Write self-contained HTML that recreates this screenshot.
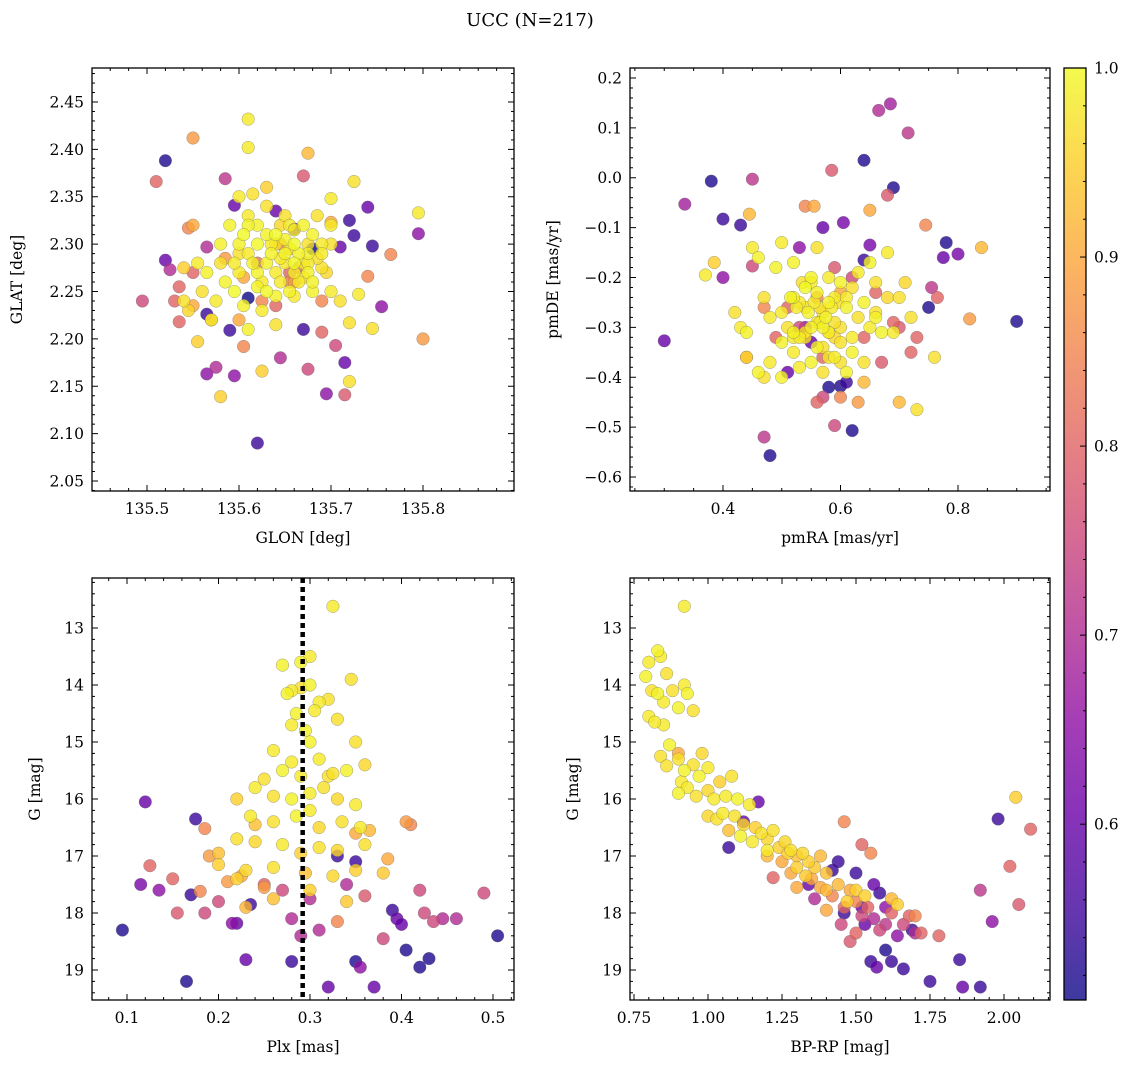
<!DOCTYPE html>
<html><head><meta charset="utf-8"><style>
html,body{margin:0;padding:0;background:#fff}
svg{display:block;font-family:"DejaVu Serif","Liberation Serif",serif}
</style></head><body>
<svg id="fig" width="1136" height="1068" viewBox="0 0 1136 1068" xmlns="http://www.w3.org/2000/svg">
<text x="530" y="26" font-size="18" text-anchor="middle">UCC (N=217)</text>
</svg>
<script>
// ---- Data (estimated from reference) ----
const p1x=[135.52,135.51,135.55,135.495,135.52,135.525,135.535,135.53,135.535,135.54,135.545,135.55,135.55,135.555,135.55,135.565,135.565,135.565,135.575,135.58,135.585,135.59,135.595,135.595,135.605,135.61,135.61,135.61,135.615,135.62,135.625,135.63,135.64,135.645,135.66,135.67,135.675,135.675,135.68,135.69,135.695,135.7,135.705,135.71,135.715,135.715,135.72,135.72,135.725,135.725,135.72,135.73,135.74,135.74,135.745,135.745,135.755,135.765,135.795,135.795,135.8,135.67,
135.60,135.61,135.62,135.63,135.64,135.65,135.66,135.67,135.68,135.69,135.62,135.63,135.645,135.655,135.665,135.675,135.60,135.595,135.585,135.575,135.58,135.59,135.61,135.62,135.64,135.655,135.67,135.685,135.70,135.61,135.625,135.64,135.605,135.57,135.56,135.565,135.555,135.54,135.545,135.6,135.61,135.63,135.66,135.68,135.69,135.7,135.71,135.64,135.65,135.66,135.675,135.69,135.7,135.62,135.595,135.58,135.605,135.635,135.65,135.68,
135.57,135.585,135.605,135.625,135.645,135.66,135.7,135.69,135.62,135.655,135.64,135.6,
135.635,135.645,135.655,135.665,135.675,135.64,135.65,135.66,135.67,135.63,135.645,135.66,135.675,135.615,135.625,135.685,135.695,135.655,135.665,135.6];
const p1y=[2.388,2.366,2.412,2.24,2.283,2.273,2.255,2.24,2.218,2.275,2.317,2.32,2.27,2.197,2.235,2.226,2.163,2.297,2.17,2.139,2.369,2.209,2.341,2.161,2.192,2.243,2.432,2.402,2.353,2.09,2.166,2.36,2.335,2.18,2.316,2.372,2.396,2.168,2.295,2.207,2.142,2.348,2.193,2.297,2.175,2.141,2.155,2.325,2.309,2.366,2.217,2.247,2.339,2.266,2.298,2.211,2.234,2.289,2.333,2.311,2.2,2.21,
2.30,2.29,2.30,2.28,2.27,2.29,2.30,2.28,2.31,2.30,2.27,2.25,2.26,2.25,2.26,2.27,2.27,2.25,2.26,2.24,2.28,2.32,2.33,2.32,2.31,2.32,2.32,2.33,2.32,2.21,2.23,2.215,2.235,2.22,2.25,2.27,2.28,2.24,2.23,2.35,2.32,2.34,2.245,2.25,2.275,2.25,2.24,2.245,2.28,2.28,2.29,2.29,2.3,2.255,2.28,2.3,2.31,2.30,2.33,2.26,
2.22,2.285,2.265,2.24,2.3,2.26,2.323,2.24,2.28,2.27,2.235,2.22,
2.29,2.285,2.295,2.29,2.28,2.3,2.305,2.27,2.265,2.31,2.32,2.315,2.3,2.28,2.26,2.285,2.27,2.26,2.275,2.29];
const p1c=[0.52,0.8,0.88,0.75,0.6,0.7,0.8,0.8,0.8,0.95,0.85,0.9,0.8,0.95,0.9,0.55,0.65,0.7,0.7,0.95,0.72,0.55,0.6,0.65,0.85,0.5,0.98,0.98,0.97,0.55,0.95,0.95,0.6,0.7,0.55,0.78,0.92,0.75,0.5,0.8,0.65,0.98,0.75,0.6,0.6,0.78,0.97,0.55,0.55,0.97,0.97,0.98,0.6,0.85,0.55,0.97,0.65,0.85,0.98,0.65,0.88,0.55,
0.99,0.98,1,0.99,0.98,0.99,1,0.98,0.99,0.98,0.99,1,0.98,0.99,0.98,0.99,0.98,1,0.99,0.98,0.97,0.99,0.98,0.99,1,0.98,0.99,0.97,0.98,0.99,0.98,0.97,0.99,0.98,0.97,0.99,0.98,0.97,0.96,0.98,0.99,0.97,0.98,0.99,0.97,0.98,0.97,0.99,0.98,1,0.99,0.98,0.97,0.99,0.98,0.99,1,0.98,0.97,0.99,
0.88,0.88,0.9,0.85,0.85,0.88,0.9,0.85,0.82,0.8,0.8,0.9,
0.99,0.98,0.97,0.99,0.98,0.97,0.99,0.98,0.97,0.99,0.96,0.98,0.97,0.99,0.98,0.97,0.96,0.85,0.8,0.97];

const p2x=[0.30,0.335,0.38,0.40,0.40,0.37,0.385,0.43,0.445,0.45,0.45,0.47,0.48,0.53,0.54,0.555,0.57,0.58,0.585,0.59,0.6,0.605,0.62,0.64,0.64,0.65,0.65,0.665,0.685,0.69,0.68,0.715,0.73,0.7,0.745,0.75,0.755,0.765,0.775,0.78,0.8,0.82,0.84,0.9,0.76,0.72,0.73,
0.45,0.46,0.47,0.48,0.49,0.5,0.51,0.52,0.53,0.54,0.55,0.56,0.57,0.58,0.59,0.6,0.61,0.62,0.63,0.64,0.65,0.66,0.67,0.68,0.69,0.7,0.5,0.52,0.54,0.56,0.58,0.6,0.62,0.64,0.53,0.55,0.57,0.59,0.61,0.48,0.47,0.46,0.44,0.43,0.42,0.44,0.5,0.52,0.56,0.58,0.6,0.62,0.63,0.65,0.66,0.68,0.71,0.5,0.52,0.54,0.56,0.58,0.6,0.64,0.66,0.72,0.55,0.57,0.59,0.61,
0.44,0.47,0.49,0.53,0.57,0.59,0.6,0.62,0.64,0.66,0.67,0.69,0.7,0.56,0.57,0.63,0.51,0.55,0.61,0.54,
0.515,0.525,0.535,0.545,0.555,0.565,0.575,0.585,0.595,0.52,0.53,0.54,0.55,0.565,0.58,0.59,0.51,0.56,0.6,0.57];
const p2y=[-0.327,-0.053,-0.007,-0.083,-0.2,-0.195,-0.17,-0.095,-0.073,-0.003,-0.177,-0.52,-0.557,-0.14,-0.057,-0.057,-0.1,-0.42,0.015,-0.497,-0.418,-0.09,-0.507,0.035,-0.165,-0.065,-0.135,0.135,0.148,-0.02,-0.035,0.09,-0.465,-0.45,-0.095,-0.26,-0.22,-0.24,-0.16,-0.13,-0.153,-0.283,-0.14,-0.288,-0.36,-0.35,-0.32,
-0.14,-0.16,-0.24,-0.28,-0.18,-0.27,-0.3,-0.24,-0.25,-0.22,-0.2,-0.29,-0.27,-0.25,-0.24,-0.3,-0.26,-0.32,-0.28,-0.25,-0.3,-0.27,-0.31,-0.24,-0.31,-0.24,-0.33,-0.35,-0.32,-0.34,-0.36,-0.37,-0.35,-0.37,-0.38,-0.37,-0.39,-0.36,-0.39,-0.37,-0.4,-0.39,-0.36,-0.3,-0.27,-0.31,-0.13,-0.17,-0.14,-0.2,-0.21,-0.22,-0.19,-0.17,-0.21,-0.15,-0.21,-0.4,-0.32,-0.26,-0.23,-0.31,-0.33,-0.41,-0.28,-0.28,-0.21,-0.3,-0.29,-0.24,
-0.36,-0.26,-0.32,-0.3,-0.36,-0.18,-0.44,-0.2,-0.32,-0.23,-0.37,-0.29,-0.3,-0.45,-0.44,-0.45,-0.39,-0.33,-0.41,-0.3,
-0.24,-0.26,-0.21,-0.27,-0.25,-0.26,-0.28,-0.26,-0.25,-0.31,-0.32,-0.31,-0.3,-0.29,-0.31,-0.32,-0.26,-0.24,-0.23,-0.34];
const p2c=[0.6,0.68,0.52,0.55,0.65,0.98,0.95,0.55,0.92,0.72,0.75,0.72,0.52,0.65,0.85,0.9,0.6,0.52,0.78,0.75,0.52,0.62,0.52,0.52,0.55,0.9,0.62,0.7,0.68,0.52,0.78,0.72,0.97,0.92,0.85,0.52,0.72,0.8,0.6,0.52,0.62,0.88,0.92,0.52,0.97,0.8,0.8,
0.98,0.99,0.97,0.98,0.99,0.98,0.97,0.99,0.98,1,0.99,0.98,0.97,0.99,0.98,0.97,0.99,0.98,0.97,0.99,0.98,0.97,0.99,0.96,0.98,0.97,0.99,0.98,0.97,0.99,0.98,0.97,0.99,0.97,0.98,0.99,0.97,0.98,0.99,0.98,0.97,0.99,0.95,0.98,0.97,0.99,0.98,0.99,0.97,0.98,0.99,0.97,0.98,0.99,0.97,0.98,0.96,0.99,0.98,0.97,0.99,0.98,0.97,0.92,0.99,0.97,0.98,0.99,0.97,0.98,
0.9,0.85,0.8,0.75,0.8,0.78,0.85,0.75,0.8,0.8,0.78,0.8,0.78,0.8,0.75,0.88,0.6,0.6,0.55,0.65,
0.99,0.98,0.97,0.99,0.98,0.97,0.99,0.98,0.97,0.99,0.98,0.97,0.99,0.98,0.97,0.96,0.8,0.85,0.9,0.97];

const p3x=[0.095,0.115,0.12,0.125,0.135,0.15,0.155,0.165,0.17,0.175,0.18,0.185,0.185,0.2,0.215,0.22,0.23,0.235,0.28,0.29,0.32,0.35,0.355,0.37,0.38,0.39,0.395,0.4,0.405,0.41,0.405,0.42,0.42,0.425,0.43,0.435,0.445,0.46,0.49,0.505,0.35,0.33,0.34,0.36,0.3,0.27,0.25,0.28,0.31,
0.325,0.29,0.3,0.345,0.275,0.28,0.29,0.3,0.31,0.32,0.285,0.28,0.295,0.33,0.26,0.3,0.35,0.31,0.25,0.27,0.29,0.32,0.34,0.36,0.24,0.26,0.28,0.3,0.315,0.33,0.35,0.22,0.235,0.26,0.285,0.31,0.335,0.355,0.2,0.22,0.24,0.27,0.29,0.31,0.33,0.36,0.2,0.23,0.26,0.295,0.325,0.35,0.38,0.23,0.26,0.3,0.34,0.22,0.3,0.28,0.27,0.305,0.325,
0.35,0.25,0.19,0.225,0.365,0.385,0.24,0.21,0.33];
const p3y=[18.3,17.5,16.05,17.17,17.6,17.4,18.0,19.2,17.68,16.35,17.62,16.52,18.0,17.8,18.18,18.18,18.82,17.85,18.85,18.4,19.3,18.85,18.95,19.3,18.45,17.95,18.1,18.2,16.4,16.45,18.65,17.6,18.95,18.0,18.8,18.15,18.1,18.1,17.65,18.4,17.1,17.0,17.5,17.7,17.75,17.6,17.5,18.1,18.3,
12.62,13.6,13.5,13.9,14.15,14.1,14.05,14.0,14.3,14.25,14.5,14.7,14.8,14.6,15.15,15.0,15.0,15.3,15.65,15.5,15.6,15.6,15.5,15.4,15.8,15.95,16.0,15.9,15.8,16.0,16.1,16.0,16.3,16.4,16.3,16.5,16.4,16.5,16.95,16.7,16.75,16.8,16.95,16.85,16.9,16.8,17.15,17.25,17.2,17.3,17.35,17.25,17.3,17.9,17.75,17.6,17.8,17.4,16.2,15.35,13.65,14.45,15.55,
16.6,17.55,17.0,17.35,16.55,17.05,16.45,17.45,18.15];
const p3c=[0.52,0.62,0.6,0.8,0.65,0.8,0.78,0.52,0.55,0.55,0.85,0.85,0.75,0.75,0.65,0.6,0.6,0.55,0.55,0.7,0.6,0.52,0.65,0.6,0.75,0.55,0.6,0.6,0.88,0.85,0.52,0.75,0.52,0.75,0.52,0.75,0.7,0.7,0.75,0.52,0.55,0.55,0.7,0.78,0.7,0.75,0.8,0.7,0.7,
0.98,0.99,0.98,0.97,0.99,0.98,0.97,0.99,0.98,0.97,0.99,0.98,0.99,0.97,0.98,0.99,0.97,0.98,0.97,0.99,0.98,0.97,0.99,0.96,0.98,0.97,0.99,0.98,0.97,0.96,0.98,0.95,0.98,0.97,0.99,0.96,0.97,0.98,0.93,0.97,0.96,0.98,0.95,0.97,0.96,0.97,0.95,0.96,0.97,0.93,0.96,0.95,0.94,0.92,0.93,0.95,0.94,0.95,0.98,0.98,0.99,0.98,0.97,
0.9,0.88,0.88,0.9,0.92,0.9,0.93,0.88,0.85];

const p4x=[0.92,1.07,1.12,1.17,1.22,1.46,1.55,1.57,1.6,1.62,1.66,1.69,1.75,1.85,1.86,1.92,1.92,1.96,1.98,2.02,2.04,2.05,2.09,0.9,1.72,1.78,
0.8,0.79,0.81,0.8,0.83,0.84,0.86,0.83,0.85,0.88,0.9,0.92,0.93,0.95,0.85,0.87,0.84,0.82,0.9,0.92,0.91,0.95,0.97,0.98,1.0,0.86,0.9,0.93,0.96,1.0,1.02,1.04,1.06,1.08,1.1,1.0,1.03,1.05,1.07,1.09,1.12,1.14,1.16,1.18,1.2,1.22,1.24,1.26,1.28,1.3,1.32,1.34,1.36,1.38,1.4,1.3,1.33,1.27,1.15,1.2,1.11,
1.38,1.4,1.42,1.44,1.46,1.48,1.5,1.52,1.54,1.56,1.58,1.6,1.62,1.64,1.66,1.68,1.7,1.45,1.48,1.5,1.53,1.56,1.36,1.34,1.42,1.44,1.5,1.58,1.55,1.52,1.5,1.47,1.53,1.62,1.64,1.4,1.46,1.52,1.6,1.7,1.25,1.3,1.35,1.28,1.2];
const p4y=[12.62,16.85,16.4,16.05,17.38,16.4,18.85,18.95,18.65,18.85,18.98,18.3,19.2,18.82,19.3,17.6,19.3,18.15,16.35,17.18,15.97,17.85,16.53,15.2,18.35,18.4,
13.6,13.85,14.1,14.55,13.4,13.5,13.8,14.15,14.3,14.1,14.4,14.0,14.15,14.45,14.7,15.05,15.25,14.65,15.3,15.5,15.7,15.4,15.6,15.2,15.45,15.42,15.9,15.8,15.95,15.85,16.0,15.7,15.95,15.6,16.0,16.3,16.35,16.25,16.55,16.3,16.45,16.1,16.5,16.6,16.7,16.55,16.85,16.75,16.9,17.0,16.95,17.1,17.2,17.0,17.3,17.2,17.35,16.95,16.75,16.9,16.65,
17.55,17.6,17.7,17.5,17.9,17.6,17.8,18.05,17.9,18.1,18.3,18.2,18.0,18.4,18.2,18.05,18.35,18.2,18.5,18.35,18.2,17.5,17.75,17.5,17.25,17.1,17.3,17.65,16.95,16.8,17.6,17.8,17.7,17.75,17.85,17.95,18.0,17.9,17.9,18.05,17.1,17.55,17.4,17.3,17.0];
const p4c=[0.98,0.55,0.6,0.6,0.8,0.85,0.55,0.6,0.52,0.55,0.55,0.55,0.55,0.55,0.6,0.72,0.55,0.65,0.55,0.8,0.95,0.78,0.8,0.9,0.8,0.8,
0.98,0.99,0.97,0.98,0.99,0.98,0.97,0.99,0.98,0.97,0.99,0.98,0.99,0.97,0.98,0.99,0.97,0.98,0.97,0.99,0.98,0.97,0.99,0.96,0.98,0.97,0.99,0.98,0.97,0.96,0.98,0.95,0.98,0.97,0.99,0.96,0.97,0.98,0.93,0.97,0.96,0.98,0.95,0.97,0.96,0.97,0.95,0.96,0.97,0.93,0.96,0.95,0.94,0.92,0.93,0.95,0.94,0.95,0.98,0.98,0.99,
0.9,0.92,0.85,0.92,0.8,0.9,0.85,0.75,0.8,0.7,0.75,0.72,0.8,0.65,0.75,0.8,0.7,0.75,0.78,0.8,0.6,0.6,0.7,0.6,0.55,0.55,0.55,0.55,0.85,0.8,0.95,0.95,0.95,0.92,0.95,0.9,0.55,0.6,0.65,0.85,0.9,0.9,0.9,0.9,0.92];

const cbTicks=[0.6,0.7,0.8,0.9,1.0];
const VMIN=0.507, VMAX=1.0;

// ---- helpers ----
const NS="http://www.w3.org/2000/svg";
const svg=document.getElementById('fig');
function mk(tag,attrs,parent){const e=document.createElementNS(NS,tag);for(const k in attrs)e.setAttribute(k,attrs[k]);(parent||svg).appendChild(e);return e;}
const stops=[[0,13,8,135],[0.1,65,4,157],[0.2,106,0,168],[0.3,143,13,164],[0.4,177,42,144],[0.5,204,71,120],[0.6,225,100,98],[0.7,242,132,75],[0.8,252,166,54],[0.9,252,206,37],[1,240,249,33]];
function plasma(t){t=Math.max(0,Math.min(1,t));for(let i=1;i<stops.length;i++){if(t<=stops[i][0]){const a=stops[i-1],b=stops[i];const f=(t-a[0])/(b[0]-a[0]);return `rgb(${Math.round(a[1]+(b[1]-a[1])*f)},${Math.round(a[2]+(b[2]-a[2])*f)},${Math.round(a[3]+(b[3]-a[3])*f)})`;}}return 'rgb(240,249,33)';}
function cmap(v){return plasma((v-VMIN)/(VMAX-VMIN));}

function panel(o){
  const g=mk('g',{});
  
  
  const sx=v=>o.L+(v-o.xd[0])/(o.xd[1]-o.xd[0])*(o.R-o.L);
  const sy=v=>o.inv? o.T+(v-o.yd[0])/(o.yd[1]-o.yd[0])*(o.B-o.T) : o.B-(v-o.yd[0])/(o.yd[1]-o.yd[0])*(o.B-o.T);
  const cp='cp'+o.name;
  const c=mk('clipPath',{id:cp},g);mk('rect',{x:o.L,y:o.T,width:o.R-o.L,height:o.B-o.T},c);
  const pts=mk('g',{'clip-path':`url(#${cp})`},g);
  
  
  const idx=o.x.map((_,i)=>i).sort((a,b)=>o.c[a]-o.c[b]);
  for(const i of idx){
    const p=mk('circle',{cx:sx(o.x[i]).toFixed(1),cy:sy(o.y[i]).toFixed(1),r:6.3,fill:cmap(o.c[i]),'fill-opacity':0.8,stroke:'#666','stroke-width':0.5,'stroke-opacity':0.6},pts);
    
    
  }
  if(o.vline!==undefined){
    const l=mk('line',{x1:sx(o.vline),x2:sx(o.vline),y1:o.T,y2:o.B,stroke:'#000','stroke-width':4.5,'stroke-dasharray':'5,4'},g);
    
    
  }
  const tk=mk('g',{stroke:'#000','stroke-width':1},g);
  
  
  const eps=1e-9;
  const xlo=Math.min(...o.xd),xhi=Math.max(...o.xd),ylo=Math.min(...o.yd),yhi=Math.max(...o.yd);
  for(let v=Math.ceil(xlo/o.xmin-eps)*o.xmin;v<=xhi+eps;v+=o.xmin){
    const major=Math.abs(v/o.xmaj-Math.round(v/o.xmaj))<1e-6; const len=major?6:3; const X=sx(v);
    mk('line',{x1:X,x2:X,y1:o.B,y2:o.B-len},tk);mk('line',{x1:X,x2:X,y1:o.T,y2:o.T+len},tk);
  }
  for(let v=Math.ceil(ylo/o.ymin-eps)*o.ymin;v<=yhi+eps;v+=o.ymin){
    const major=Math.abs(v/o.ymaj-Math.round(v/o.ymaj))<1e-6; const len=major?6:3; const Y=sy(v);
    mk('line',{x1:o.L,x2:o.L+len,y1:Y,y2:Y},tk);mk('line',{x1:o.R,x2:o.R-len,y1:Y,y2:Y},tk);
  }
  for(const v of o.xt){const t=mk('text',{x:sx(v),y:o.B+23,'font-size':15.5,'text-anchor':'middle'},g);t.textContent=o.xf(v);
    }
  for(const v of o.yt){const t=mk('text',{x:o.L-8,y:sy(v)+5.5,'font-size':15.5,'text-anchor':'end'},g);t.textContent=o.yf(v);
    }
  const xl=mk('text',{x:(o.L+o.R)/2,y:o.B+52,'font-size':15.5,'text-anchor':'middle'},g);xl.textContent=o.xlab;
  
  const yx=o.ylx, yy=(o.T+o.B)/2;
  const yl=mk('text',{x:yx,y:yy,'font-size':15.5,'text-anchor':'middle',transform:`rotate(-90 ${yx} ${yy})`},g);yl.textContent=o.ylab;
  
  const fr=mk('rect',{x:o.L,y:o.T,width:o.R-o.L,height:o.B-o.T,fill:'none',stroke:'#000','stroke-width':1.3},g);
  
}
const neg=s=>s.replace('-','\u2212');
panel({name:'glon-glat-panel',L:92,R:514,T:68,B:491,xd:[135.4402,135.8989],yd:[2.03945,2.48588],x:p1x,y:p1y,c:p1c,
  xmaj:0.1,xmin:0.02,ymaj:0.05,ymin:0.01,xt:[135.5,135.6,135.7,135.8],yt:[2.05,2.1,2.15,2.2,2.25,2.3,2.35,2.4,2.45],
  xf:v=>v.toFixed(1),yf:v=>v.toFixed(2),xlab:'GLON [deg]',ylab:'GLAT [deg]',ylx:22});
panel({name:'proper-motion-panel',L:630,R:1050,T:68,B:491,xd:[0.24170,0.95660],yd:[-0.62807,0.22005],x:p2x,y:p2y,c:p2c,
  xmaj:0.2,xmin:0.05,ymaj:0.1,ymin:0.02,xt:[0.4,0.6,0.8],yt:[-0.6,-0.5,-0.4,-0.3,-0.2,-0.1,0,0.1,0.2],
  xf:v=>v.toFixed(1),yf:v=>neg(v.toFixed(1)),xlab:'pmRA [mas/yr]',ylab:'pmDE [mas/yr]',ylx:558});
panel({name:'parallax-magnitude-panel',L:92,R:514,T:578,B:1000,xd:[0.06175,0.52295],yd:[12.1228,19.5263],inv:true,x:p3x,y:p3y,c:p3c,vline:0.292,
  xmaj:0.1,xmin:0.02,ymaj:1,ymin:0.2,xt:[0.1,0.2,0.3,0.4,0.5],yt:[13,14,15,16,17,18,19],
  xf:v=>v.toFixed(1),yf:v=>String(v),xlab:'Plx [mas]',ylab:'G [mag]',ylx:40});
panel({name:'color-magnitude-panel',L:630,R:1050,T:578,B:1000,xd:[0.73649,2.15541],yd:[12.1228,19.5263],inv:true,x:p4x,y:p4y,c:p4c,
  xmaj:0.25,xmin:0.05,ymaj:1,ymin:0.2,xt:[0.75,1.0,1.25,1.5,1.75,2.0],yt:[13,14,15,16,17,18,19],
  xf:v=>v.toFixed(2),yf:v=>String(v),xlab:'BP-RP [mag]',ylab:'G [mag]',ylx:578});

const cb=mk('g',{});


const defs=mk('defs',{},cb);
const lg=mk('linearGradient',{id:'cbg',x1:0,y1:1,x2:0,y2:0},defs);
for(const s of stops){mk('stop',{offset:s[0],'stop-color':`rgb(${s[1]},${s[2]},${s[3]})`},lg);}
const CT=68,CB=1000,CL=1064,CR=1086;
mk('rect',{x:CL,y:CT,width:CR-CL,height:CB-CT,fill:'url(#cbg)','fill-opacity':0.8},cb);
const cy=v=>CB-(v-VMIN)/(VMAX-VMIN)*(CB-CT);
for(let v=0.52;v<=1.0001;v+=0.02){const maj=Math.abs(v*10-Math.round(v*10))<1e-6;mk('line',{x1:CR,x2:CR-(maj?6:3),y1:cy(v),y2:cy(v),stroke:'#000','stroke-width':1},cb);}
for(const v of cbTicks){const t=mk('text',{x:CR+8,y:cy(v)+5.5,'font-size':15.5},cb);t.textContent=v.toFixed(1);
  }
mk('rect',{x:CL,y:CT,width:CR-CL,height:CB-CT,fill:'none',stroke:'#000','stroke-width':1.3},cb);
</script>
</body></html>
